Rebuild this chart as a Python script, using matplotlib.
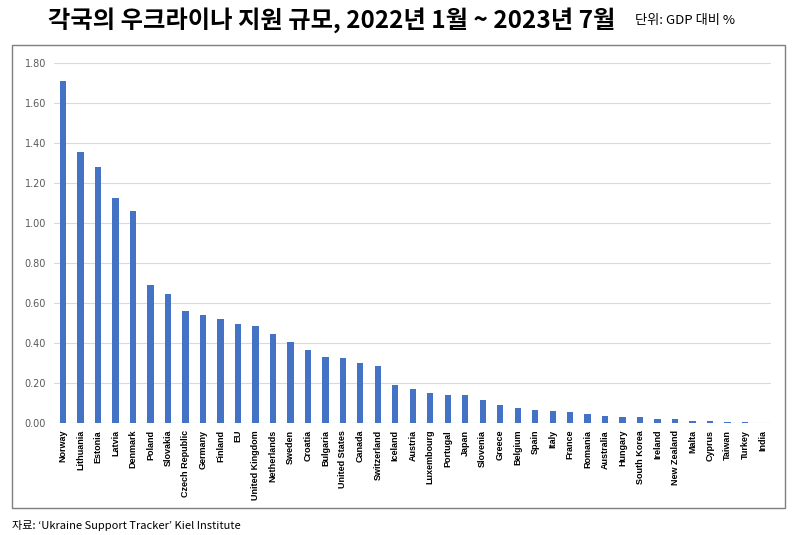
import matplotlib.pyplot as plt
from matplotlib.patches import Rectangle

plt.rcParams['font.family'] = ['Noto Sans CJK KR', 'DejaVu Sans']

countries = ["Norway", "Lithuania", "Estonia", "Latvia", "Denmark", "Poland", "Slovakia",
             "Czech Republic", "Germany", "Finland", "EU", "United Kingdom", "Netherlands",
             "Sweden", "Croatia", "Bulgaria", "United States", "Canada", "Switzerland",
             "Iceland", "Austria", "Luxembourg", "Portugal", "Japan", "Slovenia", "Greece",
             "Belgium", "Spain", "Italy", "France", "Romania", "Australia", "Hungary",
             "South Korea", "Ireland", "New Zealand", "Malta", "Cyprus", "Taiwan", "Turkey",
             "India"]
support = [1.71, 1.355, 1.28, 1.125, 1.06, 0.69, 0.645,
           0.56, 0.54, 0.52, 0.495, 0.485, 0.445,
           0.405, 0.365, 0.33, 0.325, 0.30, 0.285,
           0.19, 0.17, 0.15, 0.14, 0.14, 0.115, 0.09,
           0.075, 0.065, 0.06, 0.057, 0.045, 0.035, 0.03,
           0.03, 0.02, 0.02, 0.01, 0.01, 0.005, 0.005,
           0.001]
yticks = [0.0, 0.2, 0.4, 0.6, 0.8, 1.0, 1.2, 1.4, 1.6, 1.8]

fig = plt.figure(figsize=(8, 5.35), dpi=100)

# chart frame
fig.patches.append(Rectangle((0.015, 0.0505), 0.966, 0.8655, transform=fig.transFigure,
                             fill=False, edgecolor='#7f7f7f', linewidth=1.0))

ax = fig.add_axes([0.068, 0.2093, 0.896, 0.6727])
x = list(range(len(countries)))
ax.bar(x, support, width=0.36, color='#4472C4', zorder=3)

ax.set_xlim(-0.5, len(countries) - 0.5)
ax.set_ylim(0, 1.8)
ax.set_yticks(yticks)
ax.set_yticklabels([f"{v:.2f}" for v in yticks], fontsize=7, color='#595959',
                   family=['DejaVu Sans'])
ax.set_xticks(x)
ax.set_xticklabels(countries, rotation=90, fontsize=6.5, fontweight='bold',
                   family=['Liberation Sans'], color='black', va='top')
ax.grid(axis='y', color='#d9d9d9', linewidth=0.8, zorder=0)
ax.tick_params(axis='both', length=0, pad=6)
ax.tick_params(axis='x', pad=5)
for s in ax.spines.values():
    s.set_visible(False)
ax.axhline(0, color='#d9d9d9', linewidth=0.8, zorder=1)

fig.text(0.415, 0.962, "각국의 우크라이나 지원 규모, 2022년 1월 ~ 2023년 7월",
         ha='center', va='center', fontsize=17.5, fontweight='bold')
fig.text(0.794, 0.962, "단위: GDP 대비 %", ha='left', va='center', fontsize=9.5)
fig.text(0.015, 0.018, "자료: ‘Ukraine Support Tracker’ Kiel Institute",
         ha='left', va='center', fontsize=8)

fig.savefig("out.png", dpi=100)
